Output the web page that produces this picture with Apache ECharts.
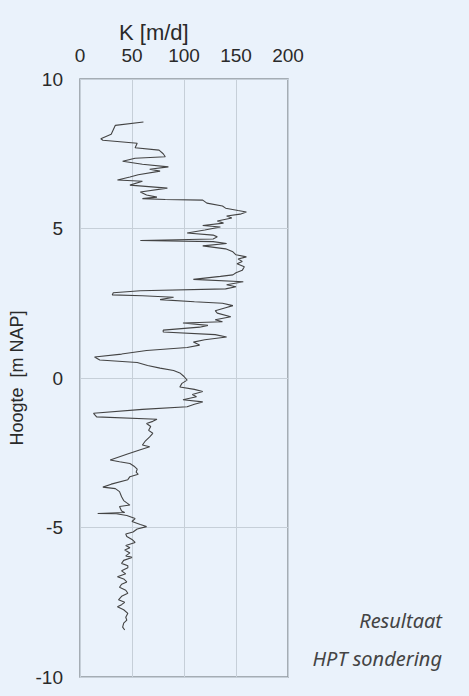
<!DOCTYPE html>
<html>
<head>
<meta charset="utf-8">
<script src="https://cdn.jsdelivr.net/npm/echarts@6/dist/echarts.min.js"></script>
<style>
  html, body { margin: 0; padding: 0; background: #eaf2fb; }
  #chart { width: 469px; height: 696px; }
</style>
</head>
<body>
<div id="chart"></div>
<script>
// depth (m NAP) and K (m/d), top to bottom
var depths = [
  8.56, 8.45, 8.30, 8.15, 8.00, 7.95, 7.85, 7.70, 7.62, 7.50, 7.40, 7.35, 7.25, 7.15, 7.06, 6.98,
  6.92, 6.80, 6.72, 6.62, 6.58, 6.45, 6.35, 6.22, 6.12, 6.05, 6.00, 5.97, 5.95, 5.85, 5.75, 5.68,
  5.60, 5.55, 5.48, 5.42, 5.35, 5.25, 5.18, 5.10, 5.05, 4.95, 4.85, 4.78, 4.72, 4.65, 4.60, 4.56,
  4.50, 4.42, 4.32, 4.22, 4.12, 4.05, 3.98, 3.90, 3.82, 3.72, 3.60, 3.52, 3.45, 3.40, 3.30, 3.22,
  3.12, 3.05, 2.98, 2.92, 2.85, 2.78, 2.75, 2.70, 2.62, 2.55, 2.50, 2.42, 2.35, 2.25, 2.17, 2.05,
  1.95, 1.88, 1.84, 1.76, 1.70, 1.60, 1.54, 1.45, 1.37, 1.28, 1.20, 1.10, 1.02, 0.92, 0.80, 0.70,
  0.60, 0.52, 0.42, 0.33, 0.25, 0.17, 0.05, -0.07, -0.18, -0.30, -0.38, -0.45, -0.55, -0.63, -0.73, -0.80,
  -0.88, -0.96, -1.05, -1.18, -1.30, -1.38, -1.45, -1.52, -1.62, -1.75, -1.85, -1.97, -2.10, -2.24, -2.30, -2.40,
  -2.55, -2.74, -2.80, -2.86, -2.95, -3.05, -3.15, -3.22, -3.30, -3.40, -3.55, -3.65, -3.70, -3.80, -3.97, -4.10,
  -4.25, -4.30, -4.45, -4.50, -4.53, -4.54, -4.60, -4.70, -4.80, -4.90, -4.97, -5.05, -5.15, -5.22, -5.30, -5.40,
  -5.50, -5.60, -5.68, -5.75, -5.85, -5.95, -6.00, -6.10, -6.20, -6.28, -6.35, -6.45, -6.55, -6.65, -6.72, -6.82,
  -6.90, -7.00, -7.10, -7.20, -7.30, -7.42, -7.50, -7.58, -7.65, -7.75, -7.87, -8.00, -8.10, -8.20, -8.33, -8.43
];
var kValues = [
  61, 34, 32, 30, 20, 22, 55, 53, 76, 80, 82, 53, 41, 60, 85, 67,
  77, 56, 48, 36, 60, 48, 84, 58, 64, 74, 60, 82, 118, 122, 137, 140,
  152, 160, 154, 141, 146, 132, 138, 118, 135, 120, 103, 128, 132, 128, 58, 128,
  141, 118, 140, 147, 150, 160, 152, 156, 151, 158, 156, 150, 147, 135, 109, 157,
  141, 150, 140, 58, 32, 31, 60, 90, 77, 110, 137, 147, 140, 130, 132, 145,
  130, 137, 99, 123, 115, 80, 80, 130, 141, 120, 109, 115, 103, 64, 40, 14,
  19, 55, 65, 77, 90, 96, 100, 103, 98, 96, 110, 118, 108, 112, 99, 118,
  110, 103, 60, 13, 16, 74, 70, 64, 68, 66, 70, 67, 63, 60, 67, 58,
  45, 29, 38, 48, 52, 55, 54, 56, 48, 46, 30, 22, 34, 38, 40, 42,
  48, 38, 40, 43, 17, 35, 45, 53, 50, 58, 64, 55, 51, 44, 45, 50,
  53, 44, 48, 43, 48, 44, 50, 42, 40, 46, 46, 40, 44, 36, 42, 45,
  40, 38, 44, 46, 40, 37, 43, 40, 36, 42, 46, 44, 45, 42, 41, 43
];
var kTicks = [0, 50, 100, 150, 200];
var depthTicks = [-10, -5, 0, 5, 10];

var profile = depths.map(function(d, i) { return [kValues[i], d]; });

var ink = '#2a2a2a';
var rule = '#c6cfd8';
var frame = '#8f969d';
var sans = '"Liberation Sans", Arial, sans-serif';

var chart = echarts.init(document.getElementById('chart'), null, { renderer: 'svg' });
chart.setOption({
  backgroundColor: '#eaf2fb',
  animation: false,
  grid: {
    left: 80, right: 181, top: 79, bottom: 19,
    show: true, borderColor: frame, borderWidth: 1.5, backgroundColor: 'transparent'
  },
  xAxis: {
    type: 'value',
    position: 'top',
    min: kTicks[0], max: kTicks[kTicks.length - 1], interval: 50,
    axisLine: { show: false },
    axisTick: { show: false },
    axisLabel: { color: ink, fontSize: 19, fontFamily: sans, margin: 14 },
    splitLine: { lineStyle: { color: rule, width: 1 } }
  },
  yAxis: {
    type: 'value',
    min: depthTicks[0], max: depthTicks[depthTicks.length - 1], interval: 5,
    name: 'Hoogte  [m NAP]',
    nameLocation: 'middle',
    nameGap: 54,
    nameTextStyle: { color: ink, fontSize: 18, fontFamily: sans },
    axisLine: { show: false },
    axisTick: { show: false },
    axisLabel: { color: ink, fontSize: 19, fontFamily: sans, margin: 17 },
    splitLine: { lineStyle: { color: rule, width: 1 } }
  },
  graphic: [
    { type: 'text', left: 119, top: 21,
      style: { text: 'K [m/d]', fill: ink, font: '22px "Liberation Sans", Arial' } },
    { type: 'text', right: 27, top: 610,
      style: { text: 'Resultaat', fill: '#444', font: 'italic 20px "Noto Sans"' } },
    { type: 'text', right: 27, top: 648,
      style: { text: 'HPT sondering', fill: '#444', font: 'italic 20px "Noto Sans"' } }
  ],
  series: [{
    type: 'line',
    data: profile,
    showSymbol: false,
    symbol: 'none',
    lineStyle: { color: '#444', width: 1.1 }
  }]
});
</script>
</body>
</html>
